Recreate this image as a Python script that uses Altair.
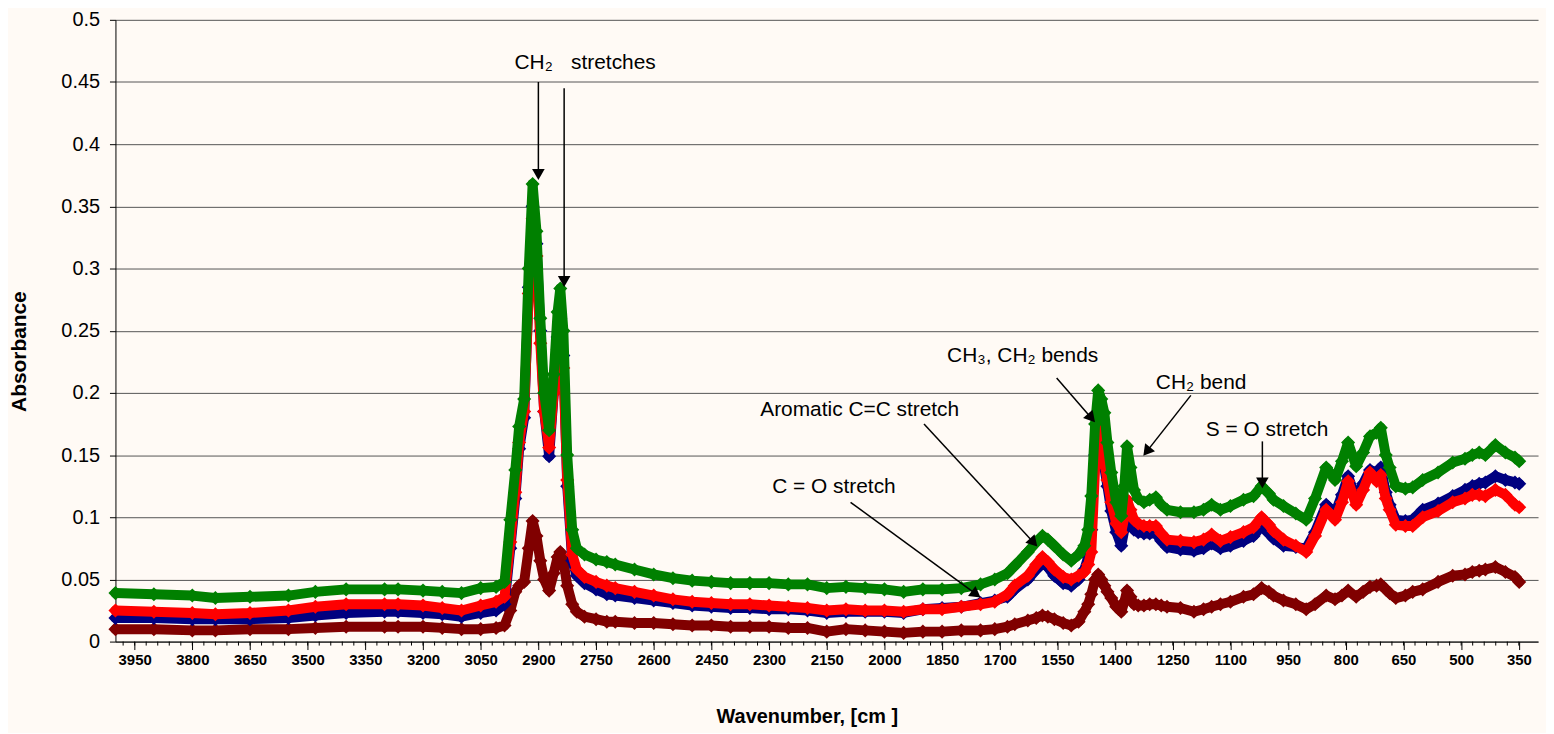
import math
import altair as alt
import pandas as pd

# ---------------- data ----------------
WAVENUMBER = [4000, 3900, 3800, 3740, 3650, 3550, 3480, 3400, 3300, 3265, 3200, 3150, 3100, 3050,
              3010, 2988, 2973, 2960, 2950, 2937, 2925, 2915, 2905, 2895, 2885, 2872, 2860, 2850,
              2843, 2835, 2825, 2812, 2800, 2780, 2750, 2722, 2700, 2650, 2600, 2550, 2500, 2450,
              2400, 2350, 2300, 2250, 2200, 2150, 2100, 2050, 2000, 1950, 1900, 1850, 1800, 1750,
              1713, 1680, 1661, 1627, 1605, 1589, 1575, 1558, 1535, 1514, 1495, 1480, 1470, 1462,
              1452, 1444, 1436, 1428, 1420, 1410, 1397, 1384, 1376, 1369, 1360, 1351, 1340, 1325,
              1310, 1294, 1280, 1265, 1230, 1195, 1170, 1149, 1126, 1100, 1066, 1040, 1019, 1000,
              988, 962, 930, 903, 880, 851, 828, 810, 794, 773, 755, 737, 720, 709, 696, 686, 670,
              645, 626, 600, 560, 522, 490, 471, 453, 437, 411, 385, 360, 349]

GREEN = [0.039, 0.038, 0.037, 0.035, 0.036, 0.037, 0.040, 0.042, 0.042, 0.042, 0.041, 0.040, 0.039, 0.043,
         0.044, 0.048, 0.098, 0.138, 0.173, 0.195, 0.300, 0.368, 0.330, 0.260, 0.200, 0.170, 0.215, 0.265,
         0.284, 0.250, 0.150, 0.090, 0.075, 0.070, 0.066, 0.064, 0.062, 0.058, 0.054, 0.051, 0.049, 0.048,
         0.047, 0.047, 0.047, 0.046, 0.046, 0.043, 0.044, 0.043, 0.042, 0.040, 0.042, 0.042, 0.043, 0.046,
         0.050, 0.055, 0.061, 0.072, 0.080, 0.085, 0.082, 0.077, 0.070, 0.065, 0.070, 0.077, 0.090, 0.117,
         0.175, 0.202, 0.195, 0.184, 0.160, 0.136, 0.112, 0.101, 0.125, 0.157, 0.140, 0.122, 0.115, 0.112,
         0.114, 0.116, 0.110, 0.106, 0.104, 0.104, 0.106, 0.110, 0.106, 0.109, 0.114, 0.117, 0.125, 0.119,
         0.114, 0.109, 0.103, 0.098, 0.115, 0.140, 0.130, 0.145, 0.160, 0.141, 0.152, 0.165, 0.168, 0.172,
         0.150, 0.140, 0.125, 0.123, 0.124, 0.130, 0.136, 0.144, 0.147, 0.150, 0.152, 0.150, 0.158, 0.152,
         0.148, 0.145]

RED = [0.025, 0.024, 0.023, 0.022, 0.023, 0.025, 0.028, 0.030, 0.030, 0.030, 0.029, 0.027, 0.025, 0.029,
       0.032, 0.036, 0.080, 0.120, 0.160, 0.185, 0.280, 0.340, 0.310, 0.240, 0.185, 0.156, 0.200, 0.235,
       0.250, 0.220, 0.130, 0.070, 0.058, 0.052, 0.048, 0.045, 0.043, 0.040, 0.037, 0.034, 0.032, 0.031,
       0.030, 0.030, 0.029, 0.028, 0.027, 0.025, 0.026, 0.025, 0.025, 0.024, 0.026, 0.026, 0.028, 0.030,
       0.032, 0.038, 0.045, 0.053, 0.062, 0.068, 0.064, 0.058, 0.052, 0.050, 0.053, 0.056, 0.062, 0.072,
       0.140, 0.176, 0.165, 0.144, 0.130, 0.112, 0.095, 0.088, 0.100, 0.114, 0.106, 0.098, 0.095, 0.093,
       0.093, 0.093, 0.087, 0.082, 0.081, 0.080, 0.082, 0.086, 0.081, 0.084, 0.088, 0.092, 0.100, 0.094,
       0.089, 0.082, 0.077, 0.072, 0.085, 0.106, 0.098, 0.112, 0.129, 0.110, 0.122, 0.136, 0.129, 0.134,
       0.115, 0.106, 0.094, 0.093, 0.093, 0.100, 0.105, 0.112, 0.115, 0.118, 0.118, 0.117, 0.122, 0.118,
       0.110, 0.108]

NAVY = [0.019, 0.019, 0.018, 0.018, 0.018, 0.019, 0.021, 0.023, 0.024, 0.024, 0.023, 0.022, 0.020, 0.023,
        0.025, 0.030, 0.075, 0.115, 0.155, 0.180, 0.285, 0.350, 0.320, 0.250, 0.185, 0.149, 0.200, 0.245,
        0.260, 0.230, 0.125, 0.065, 0.053, 0.047, 0.042, 0.038, 0.037, 0.035, 0.033, 0.031, 0.029, 0.028,
        0.027, 0.027, 0.026, 0.026, 0.025, 0.023, 0.024, 0.024, 0.024, 0.023, 0.026, 0.027, 0.028, 0.031,
        0.033, 0.036, 0.042, 0.050, 0.058, 0.063, 0.060, 0.053, 0.047, 0.045, 0.050, 0.058, 0.068, 0.090,
        0.150, 0.170, 0.160, 0.140, 0.125, 0.105, 0.088, 0.077, 0.090, 0.105, 0.098, 0.090, 0.088, 0.087,
        0.087, 0.087, 0.081, 0.076, 0.074, 0.073, 0.075, 0.079, 0.075, 0.077, 0.081, 0.085, 0.093, 0.087,
        0.083, 0.077, 0.076, 0.075, 0.088, 0.110, 0.103, 0.118, 0.133, 0.115, 0.127, 0.138, 0.136, 0.140,
        0.120, 0.110, 0.098, 0.097, 0.098, 0.106, 0.111, 0.117, 0.122, 0.125, 0.127, 0.128, 0.133, 0.130,
        0.128, 0.127]

DARKRED = [0.010, 0.010, 0.009, 0.009, 0.010, 0.010, 0.011, 0.012, 0.012, 0.012, 0.012, 0.011, 0.010, 0.010,
           0.011, 0.013, 0.025, 0.040, 0.045, 0.048, 0.075, 0.097, 0.085, 0.065, 0.050, 0.041, 0.055, 0.068,
           0.072, 0.065, 0.045, 0.030, 0.024, 0.020, 0.018, 0.016, 0.016, 0.015, 0.015, 0.014, 0.013, 0.013,
           0.012, 0.012, 0.012, 0.011, 0.011, 0.008, 0.010, 0.009, 0.008, 0.007, 0.008, 0.008, 0.009, 0.009,
           0.010, 0.012, 0.014, 0.017, 0.019, 0.021, 0.020, 0.018, 0.015, 0.013, 0.016, 0.024, 0.030, 0.038,
           0.050, 0.054, 0.050, 0.045, 0.040, 0.035, 0.028, 0.024, 0.032, 0.041, 0.036, 0.030, 0.029, 0.029,
           0.030, 0.030, 0.029, 0.028, 0.027, 0.024, 0.026, 0.028, 0.030, 0.032, 0.036, 0.038, 0.043, 0.040,
           0.037, 0.033, 0.030, 0.026, 0.030, 0.037, 0.034, 0.037, 0.041, 0.036, 0.040, 0.044, 0.045, 0.046,
           0.042, 0.039, 0.035, 0.037, 0.040, 0.042, 0.048, 0.053, 0.054, 0.056, 0.057, 0.058, 0.060, 0.056,
           0.052, 0.048]

# drawing order (first drawn = bottom)
SERIES_ORDER = ["darkred", "navy", "red", "green"]
SERIES_VALUES = {"darkred": DARKRED, "navy": NAVY, "red": RED, "green": GREEN}
SERIES_COLORS = {"darkred": "#800000", "navy": "#000080", "red": "#FF0000", "green": "#008000"}

X_TICKS = [3950, 3800, 3650, 3500, 3350, 3200, 3050, 2900, 2750, 2600, 2450, 2300, 2150, 2000,
           1850, 1700, 1550, 1400, 1250, 1100, 950, 800, 650, 500, 350]
MINOR_TICKS = list(range(350, 4000, 30))
Y_TICKS = [0, 0.05, 0.1, 0.15, 0.2, 0.25, 0.3, 0.35, 0.4, 0.45, 0.5]

ANN_TEXT = ["CH\u2082", "stretches", "CH\u2083, CH\u2082 bends", "Aromatic C=C stretch",
            "CH\u2082 bend", "S = O stretch", "C = O stretch"]
ANN_WN = [2962, 2815, 1837, 2323, 1294, 1164, 2292]
ANN_VAL = [0.465, 0.465, 0.230, 0.186, 0.208, 0.170, 0.124]

ARROW_WN_FROM = [2900, 2833, 1552, 1203, 1017, 1897, 2088]
ARROW_VAL_FROM = [0.450, 0.445, 0.212, 0.198, 0.161, 0.175, 0.112]
ARROW_WN_TO = [2900, 2833, 1454, 1325, 1017, 1604, 1752]
ARROW_VAL_TO = [0.372, 0.286, 0.177, 0.150, 0.124, 0.077, 0.036]

# ---------------- layout ----------------
W, H = 1430, 625
X_MIN, X_MAX = 300, 4000
Y_MAX = 0.5
FONT = "Liberation Sans"
BG = "#FFFAF5"
HEAD_SIZE = 160

xscale = alt.Scale(domain=[X_MIN, X_MAX], reverse=True, nice=False, zero=False)
yscale = alt.Scale(domain=[0, Y_MAX], nice=False)

xaxis = alt.Axis(values=X_TICKS, format="d", labelFont=FONT, labelFontSize=15, labelFontWeight="bold",
                 labelColor="black", tickColor="black", tickSize=8, tickWidth=1, domainColor="black",
                 domainWidth=1, grid=False, labelPadding=3, labelOverlap=False, labelFlush=False,
                 title="Wavenumber, [cm ]", titleFont=FONT, titleFontSize=20, titleFontWeight="bold",
                 titleColor="black", titleX=695, titleY=75, titleAlign="center", titleBaseline="middle")
yaxis = alt.Axis(values=Y_TICKS, format=".2~f", labelFont=FONT, labelFontSize=20, labelColor="black",
                 tickColor="black", tickSize=6, tickWidth=1, domainColor="black", domainWidth=1,
                 labelPadding=10, grid=True, gridColor="#555555", gridWidth=1,
                 title="Absorbance", titleFont=FONT, titleFontSize=21, titleFontWeight="bold",
                 titleColor="black", titleX=-96, titleY=333, titleAngle=-90, titleAlign="center",
                 titleBaseline="middle")

X_ENC = alt.X("wn:Q", scale=xscale, axis=xaxis)
Y_ENC = alt.Y("val:Q", scale=yscale, axis=yaxis)

layers = []
for name in SERIES_ORDER:
    df = pd.DataFrame({"wn": WAVENUMBER, "val": SERIES_VALUES[name]})
    col = SERIES_COLORS[name]
    base = alt.Chart(df)
    layers.append(base.mark_line(color=col, strokeWidth=10, strokeJoin="round", strokeCap="round")
                  .encode(x=X_ENC, y=Y_ENC, order="wn:Q"))
    layers.append(base.mark_point(shape="diamond", filled=True, color=col, size=200, opacity=1)
                  .encode(x=X_ENC, y=Y_ENC))

# minor ticks on the x axis
minor_df = pd.DataFrame({"wn": MINOR_TICKS})
layers.append(alt.Chart(minor_df).mark_rule(color="black", strokeWidth=1)
              .encode(x=X_ENC, y=alt.value(H), y2=alt.value(H + 4)))

# annotation arrows
def to_px(wn, v):
    return ((X_MAX - wn) / (X_MAX - X_MIN) * W, H - v / Y_MAX * H)

def from_px(px, py):
    return (X_MAX - px / W * (X_MAX - X_MIN), (H - py) / H * Y_MAX)

r = math.sqrt(HEAD_SIZE) / 2
rows_line, rows_head = [], []
for w0, v0, w1, v1 in zip(ARROW_WN_FROM, ARROW_VAL_FROM, ARROW_WN_TO, ARROW_VAL_TO):
    x0, y0 = to_px(w0, v0)
    x1, y1 = to_px(w1, v1)
    L = math.hypot(x1 - x0, y1 - y0)
    dx, dy = (x1 - x0) / L, (y1 - y0) / L
    cx, cy = x1 - dx * r, y1 - dy * r
    cw, cv = from_px(cx, cy)
    ang = math.degrees(math.atan2(dx, -dy)) % 360
    rows_line.append({"wn": w0, "val": v0, "wn2": cw, "val2": cv})
    rows_head.append({"wn": cw, "val": cv, "ang": ang})

layers.append(alt.Chart(pd.DataFrame(rows_line)).mark_rule(color="black", strokeWidth=1.5)
              .encode(x=X_ENC, y=Y_ENC, x2="wn2:Q", y2="val2:Q"))
layers.append(alt.Chart(pd.DataFrame(rows_head)).mark_point(shape="triangle", filled=True, color="black",
                                                             size=HEAD_SIZE, opacity=1)
              .encode(x=X_ENC, y=Y_ENC, angle=alt.Angle("ang:Q", scale=None)))

ann_df = pd.DataFrame({"wn": ANN_WN, "val": ANN_VAL, "label": ANN_TEXT})
layers.append(alt.Chart(ann_df).mark_text(align="left", baseline="middle", font=FONT, fontSize=21,
                                          color="black")
              .encode(x=X_ENC, y=Y_ENC, text="label:N"))

chart = alt.layer(*layers).properties(
    width=W, height=H,
    padding={"left": 108, "top": 10, "right": 8, "bottom": 90},
    autosize=alt.AutoSizeParams(type="none"),
    background=BG,
).configure_view(stroke=None, fill=BG)

chart.save("out.html", embed_options={"renderer": "svg", "actions": False})
